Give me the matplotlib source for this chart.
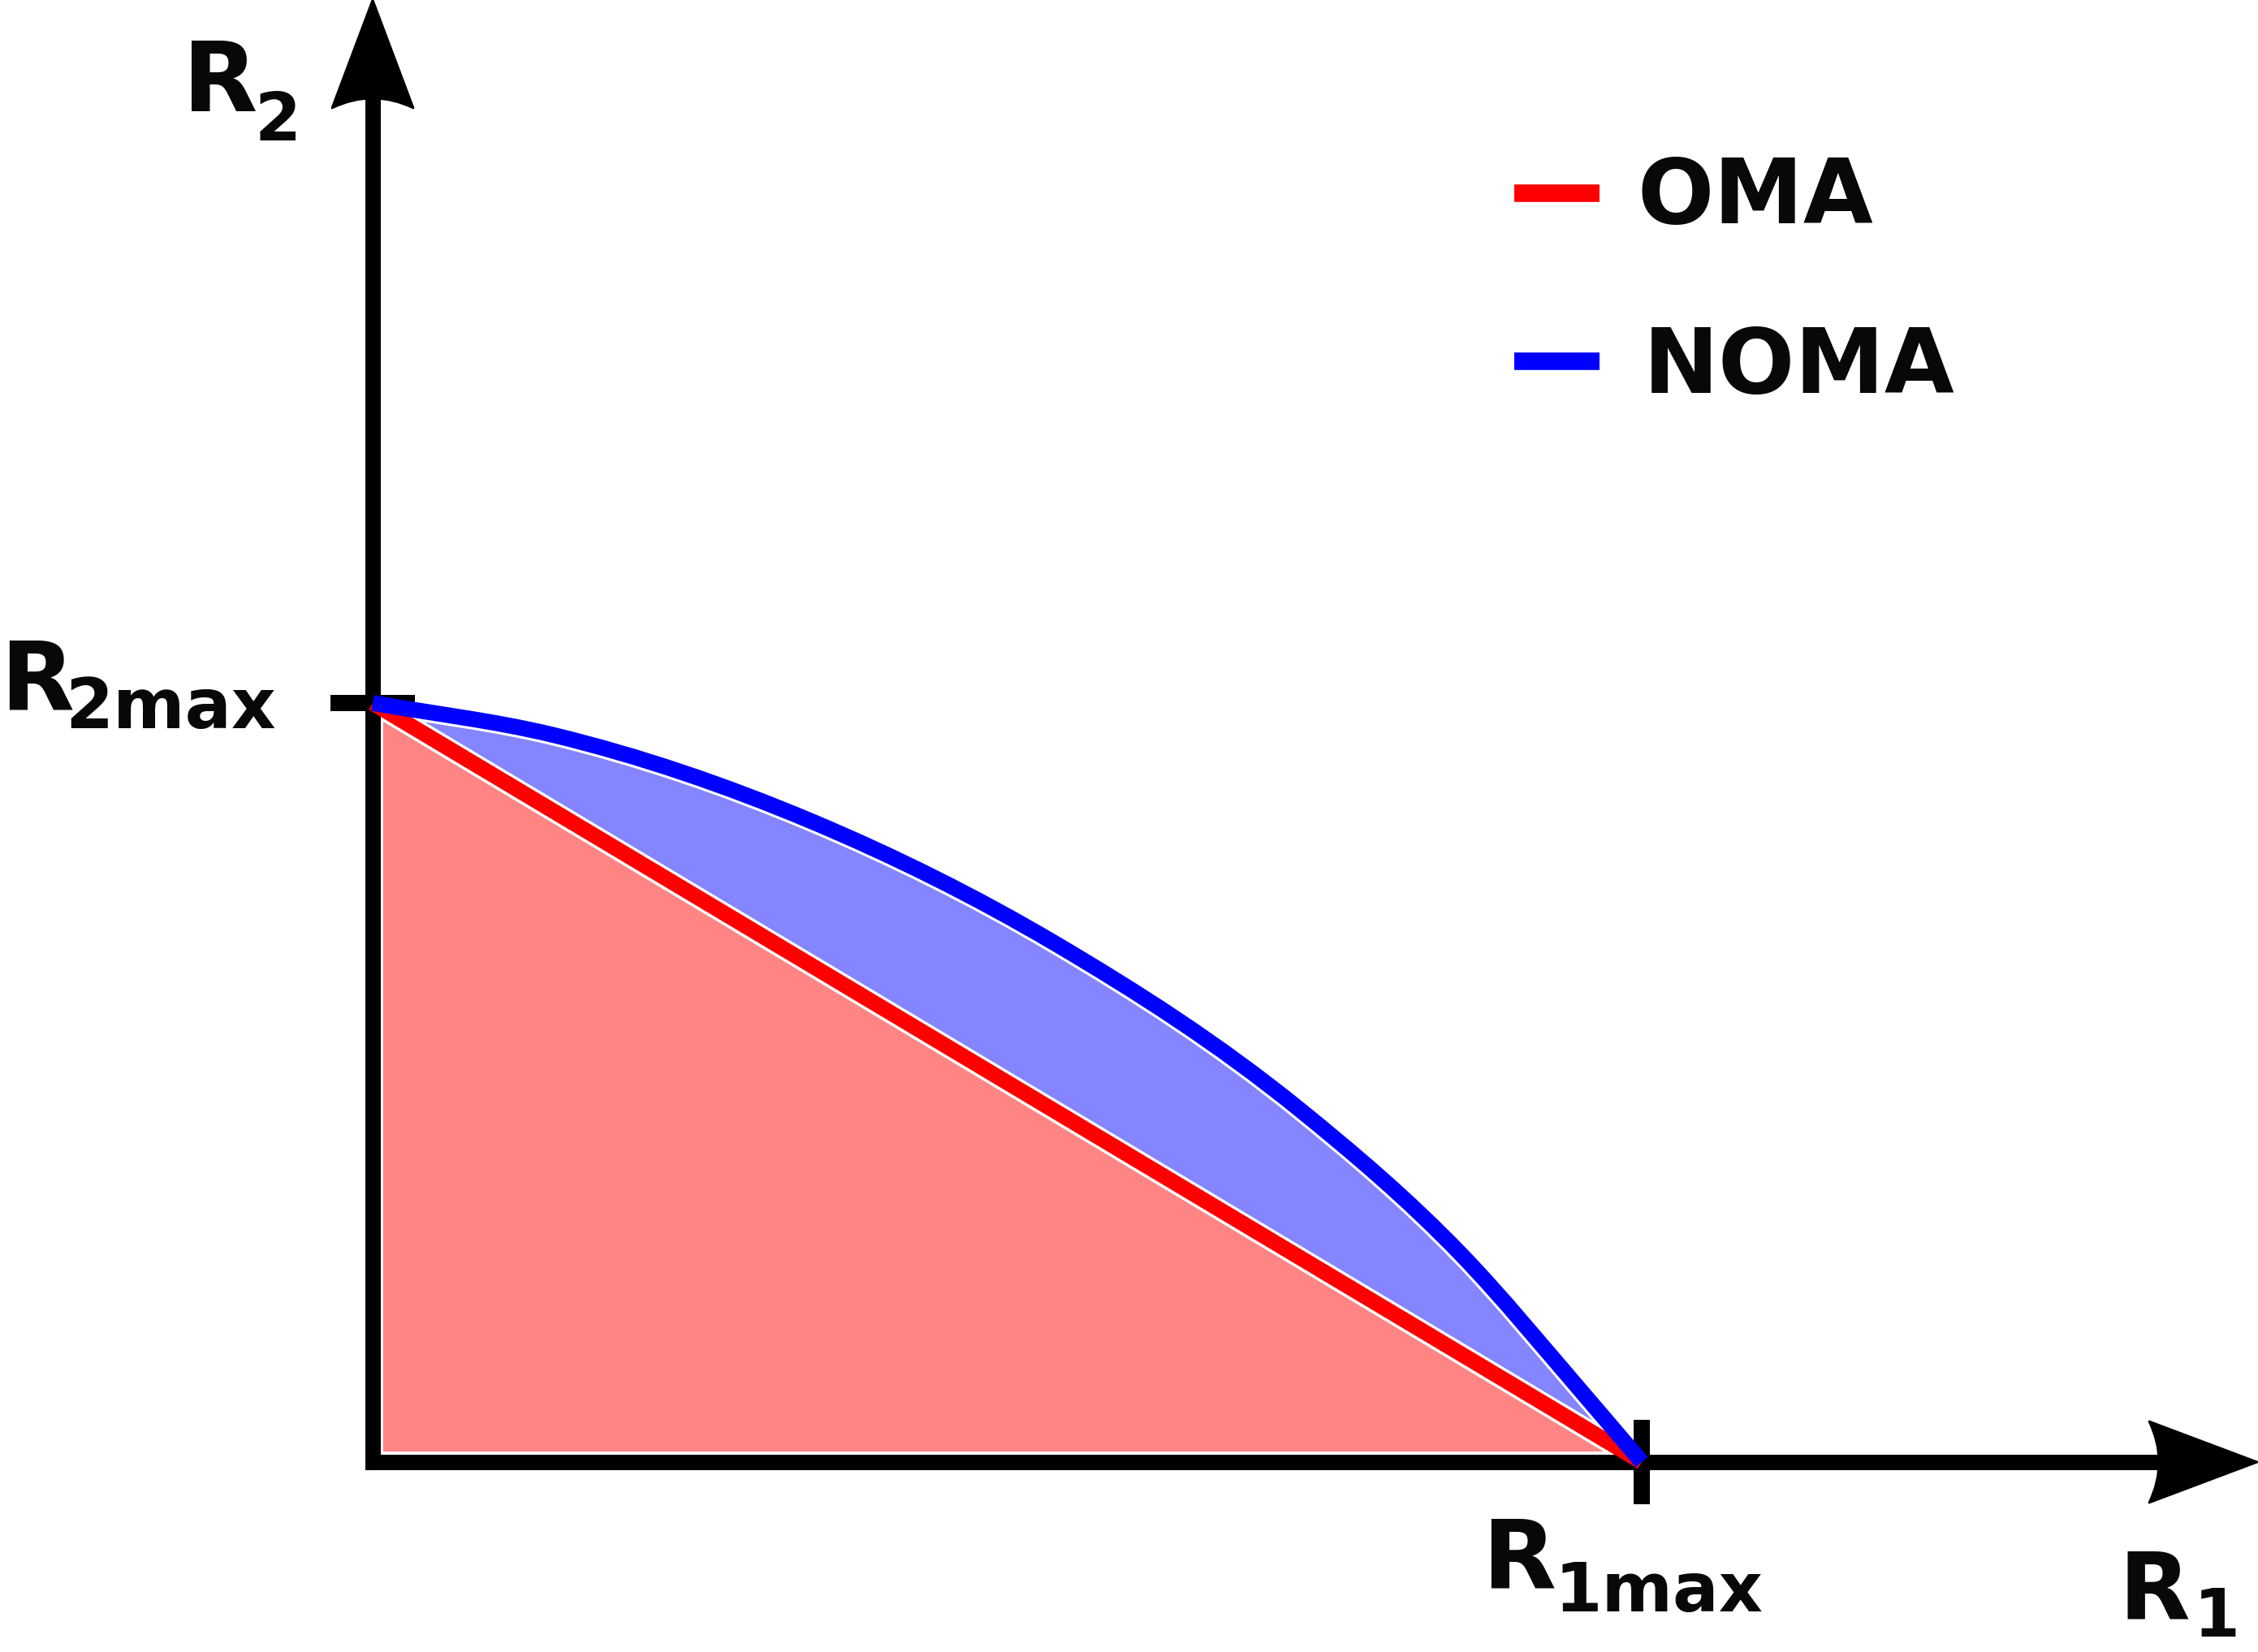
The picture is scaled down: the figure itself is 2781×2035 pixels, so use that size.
import numpy as np
import matplotlib
matplotlib.use("Agg")
import matplotlib.pyplot as plt
from matplotlib.path import Path
from matplotlib.patches import PathPatch
from matplotlib.lines import Line2D
from matplotlib.transforms import IdentityTransform

# rate region data (normalised so that R1max = R2max = 1)
r1_max = 1.0
r2_max = 1.0
oma_r1 = [0.0, r1_max]
oma_r2 = [r2_max, 0.0]
noma_r1 = [0.000, 0.142, 0.346, 0.538, 0.730, 0.858, 0.954, 1.000]
noma_r2 = [1.000, 0.958, 0.844, 0.683, 0.465, 0.273, 0.090, 0.000]
series_labels = ["OMA", "NOMA"]
series_colors = ["#ff0000", "#0000ff"]
fill_colors = ["#ff8585", "#8585ff"]

# canvas layout in pixels
W, H = 2781, 2035
ORIGIN = (459, 1801)      # pixel position of (0, 0)
UNIT = (1563, 935)        # pixels per unit of R1 / R2
TXT = "#080808"

fig = plt.figure(figsize=(W / 100, H / 100), dpi=100)
ax = fig.add_axes([0, 0, 1, 1])
ax.set_xlim(-ORIGIN[0] / UNIT[0], (W - ORIGIN[0]) / UNIT[0])
ax.set_ylim(-(H - ORIGIN[1]) / UNIT[1], ORIGIN[1] / UNIT[1])
ax.patch.set_visible(False)


def smooth_path(xs, ys):
    # cubic Hermite segments through the read points (Bessel slopes)
    x = np.asarray(xs, float)
    y = np.asarray(ys, float)
    h = np.diff(x)
    d = np.diff(y) / h
    m = np.empty_like(x)
    m[0], m[-1] = d[0], d[-1]
    m[1:-1] = (h[1:] * d[:-1] + h[:-1] * d[1:]) / (h[:-1] + h[1:])
    verts, codes = [(x[0], y[0])], [Path.MOVETO]
    for i in range(len(x) - 1):
        verts += [(x[i] + h[i] / 3, y[i] + m[i] * h[i] / 3),
                  (x[i + 1] - h[i] / 3, y[i + 1] - m[i + 1] * h[i] / 3),
                  (x[i + 1], y[i + 1])]
        codes += [Path.CURVE4] * 3
    return verts, codes


noma_verts, noma_codes = smooth_path(noma_r1, noma_r2)

# filled regions with a white rim
ax.fill([0.0] + oma_r1, [0.0] + oma_r2, color=fill_colors[0], ec="white",
        lw=18.5, joinstyle="round", zorder=1)
fill_path = Path(noma_verts + [(oma_r1[0], oma_r2[0]), (0, 0)],
                 noma_codes + [Path.LINETO, Path.CLOSEPOLY])
ax.add_patch(PathPatch(fill_path, fc=fill_colors[1], ec="white", lw=18.5,
                       joinstyle="round", zorder=1.1))

# boundaries
ax.plot(oma_r1, oma_r2, color=series_colors[0], lw=13.7, solid_capstyle="butt", zorder=3)
ax.add_patch(PathPatch(Path(noma_verts, noma_codes), fill=False, ec=series_colors[1],
                       lw=14, capstyle="butt", joinstyle="round", zorder=3.1))

# axes as arrows through the origin
for s in ["top", "right"]:
    ax.spines[s].set_visible(False)
for s in ["left", "bottom"]:
    ax.spines[s].set_position(("data", 0))
    ax.spines[s].set_linewidth(13.7)
    ax.spines[s].set_zorder(2.5)
ax.spines["left"].set_bounds(0, (ORIGIN[1] - 120) / UNIT[1])
ax.spines["bottom"].set_bounds(0, (W - ORIGIN[0] - 120) / UNIT[0])
ax.set_xticks([r1_max])
ax.set_yticks([r2_max])
ax.tick_params(direction="inout", length=75, width=14.4, color="k",
               labelbottom=False, labelleft=False)
ax.set_axisbelow(False)


def arrow_head(tip, d, length=133, half=50, notch=24):
    tx, ty = ax.transData.transform(tip)
    dx, dy = d
    px, py = -dy, dx
    bx, by = tx - length * dx, ty - length * dy
    verts = [(tx, ty),
             (bx + half * px, by + half * py),
             (bx + notch * dx, by + notch * dy),
             (bx - half * px, by - half * py),
             (tx, ty)]
    codes = [Path.MOVETO, Path.LINETO, Path.CURVE3, Path.CURVE3, Path.CLOSEPOLY]
    ax.add_patch(PathPatch(Path(verts, codes), fc="k", ec="k", lw=2, joinstyle="round",
                           transform=IdentityTransform(), zorder=2.6))


arrow_head((0, ax.get_ylim()[1]), (0, 1))
arrow_head(((W - 1 - ORIGIN[0]) / UNIT[0], 0), (1, 0))


def put(s, x, base, px):
    fig.text(x / W, 1 - base / H, s, fontsize=px * 0.72, fontweight="bold",
             ha="left", va="baseline", color=TXT)


# axis labels (main letter + subscript)
put("R", 225, 137, 120)
put("2", 313, 173, 82)
put("R", 2610, 1994, 114)
put("1", 2702, 2016, 82)
put("R", 0, 875, 118)
put("2max", 80, 897, 85)
put("R", 1825, 1956, 118)
put("1max", 1915, 1985, 84)

# legend
for i, (lab, col) in enumerate(zip(series_labels, series_colors)):
    yc = [238, 445][i]
    fig.add_artist(Line2D([1865 / W, 1970 / W], [1 - yc / H, 1 - yc / H], color=col,
                          lw=15.5, solid_capstyle="butt", transform=fig.transFigure))
    put(lab, [2017, 2024][i], [275, 484][i], 111)

fig.savefig("out.png", dpi=100)
